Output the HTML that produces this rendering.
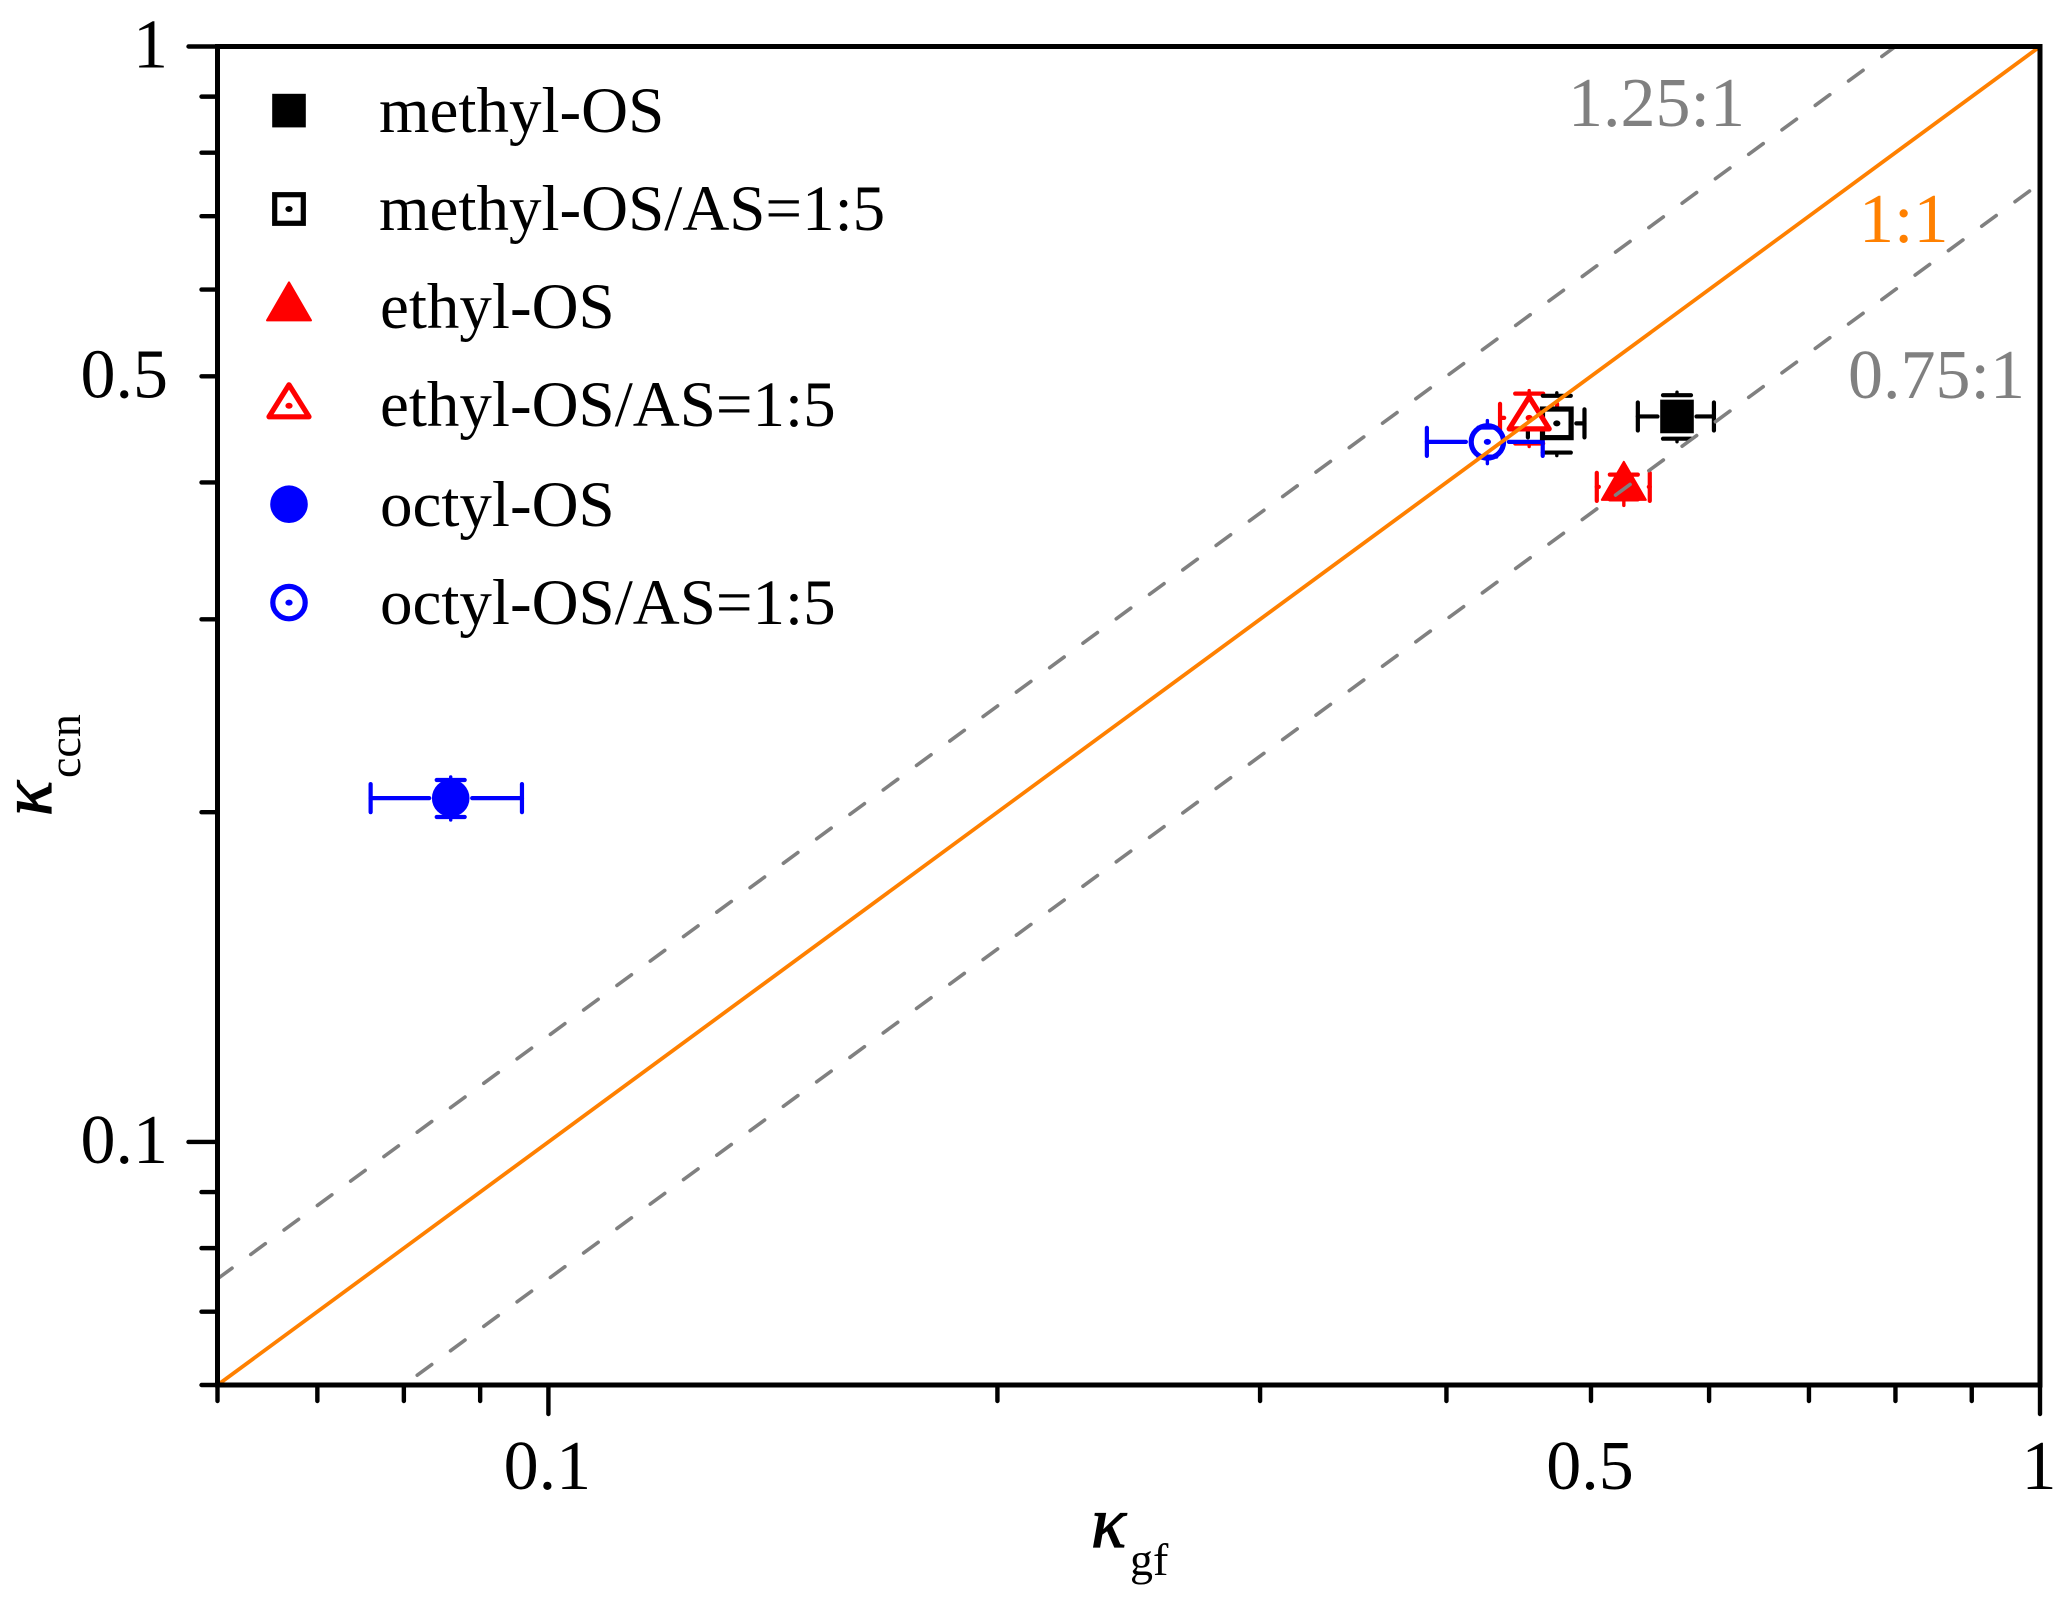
<!DOCTYPE html>
<html lang="en">
<head>
<meta charset="utf-8">
<title>kappa ccn vs kappa gf</title>
<style>
html,body{margin:0;padding:0;background:#fff;}
svg{display:block;}
text{font-family:"Liberation Serif",serif;font-size:70px;fill:#000;}
.legend-text{font-size:65px;}
.sub{font-size:46px;}
.kappa{font-style:italic;font-size:73px;stroke:#000;stroke-width:1.2px;}
</style>
</head>
<body>
<svg id="chart" width="2067" height="1602" viewBox="0 0 2067 1602" xmlns="http://www.w3.org/2000/svg">
  <rect x="0" y="0" width="2067" height="1602" fill="#fff"/>
  <g id="errors"></g>
  <g id="markers"></g>
  <g id="refs"></g>
  <g id="axes"></g>
  <g id="legendMarkers"></g>
  <g>
    <text class="legend-text" x="379" y="132">methyl-OS</text>
    <text class="legend-text" x="379" y="230">methyl-OS/AS=1:5</text>
    <text class="legend-text" x="380" y="328">ethyl-OS</text>
    <text class="legend-text" x="380" y="426">ethyl-OS/AS=1:5</text>
    <text class="legend-text" x="380" y="526">octyl-OS</text>
    <text class="legend-text" x="380" y="624">octyl-OS/AS=1:5</text>
  </g>
  <text x="1568" y="126" style="fill:#808080">1.25:1</text>
  <text x="1859" y="242" style="fill:#FF8000">1:1</text>
  <text x="1848" y="398" style="fill:#808080">0.75:1</text>
  <g>
    <text class="kappa" x="1091" y="1547">κ</text>
    <text class="sub" x="1130" y="1575">gf</text>
  </g>
  <g>
    <text class="kappa" transform="translate(51 816) rotate(-90)">κ</text>
    <text class="sub" transform="translate(80 778) rotate(-90)">ccn</text>
  </g>
</svg>
<script>
// ----- chart data -----
const seriesNames = ['ethyl-os-as','methyl-os','ethyl-os','octyl-os','methyl-os-as','octyl-os-as'];
const kappaGf  = [0.4545, 0.571, 0.526, 0.086, 0.4743, 0.4261];
const gfError  = [0.020, 0.0335, 0.0215, 0.010, 0.0207, 0.038];
const kappaCcn = [0.4581, 0.4595, 0.3963, 0.206, 0.4529, 0.4356];
const ccnError = [0.024, 0.021, 0.0103, 0.008, 0.027, 0.0133];
const ratios = [1.25, 1, 0.75];
const xMinorTicks = [0.06,0.07,0.08,0.09,0.2,0.3,0.4,0.5,0.6,0.7,0.8,0.9];
const xMajorTicks = [0.1,1];
const yMinorTicks = [0.06,0.07,0.08,0.09,0.2,0.3,0.4,0.5,0.6,0.7,0.8,0.9];
const yMajorTicks = [0.1,1];
const xLabels = ['0.1','0.5','1'];
const yLabels = ['0.1','0.5','1'];

// ----- axis functions -----
const L = 217.5, R = 2040, T = 46.5, B = 1385;
const xMin = 0.06, yMin = 0.06;
const NS = 'http://www.w3.org/2000/svg';
function xPos(v){ return L + (Math.log10(v) - Math.log10(xMin)) / (0 - Math.log10(xMin)) * (R - L); }
function yPos(v){ return T + (0 - Math.log10(v)) / (0 - Math.log10(yMin)) * (B - T); }
function make(parent, tag, attrs){
  const e = document.createElementNS(NS, tag);
  for (const k in attrs) e.setAttribute(k, attrs[k]);
  parent.appendChild(e);
  return e;
}
function seg(parent, x1, y1, x2, y2, color, w){
  return make(parent, 'line', {x1, y1, x2, y2, stroke: color, 'stroke-width': w, 'stroke-linecap': 'round'});
}

// ----- marker styling -----
const markerStyle = {
  'methyl-os':    {shape:'square',  color:'#000000', filled:true,  edge:[16.5,16.5], capX:14, stub:3},
  'methyl-os-as': {shape:'square',  color:'#000000', filled:false, edge:[16.5,16.5], capX:14, stub:3},
  'ethyl-os':     {shape:'triangle',color:'#FF0000', filled:true,  edge:[22,13],     capX:14, stub:6},
  'ethyl-os-as':  {shape:'triangle',color:'#FF0000', filled:false, edge:[22,13],     capX:14, stub:3},
  'octyl-os':     {shape:'circle',  color:'#0000FF', filled:true,  edge:[18.5,18.5], capX:14, stub:3},
  'octyl-os-as':  {shape:'circle',  color:'#0000FF', filled:false, edge:[18.5,18.5], capX:9,  stub:7}
};
function drawMarker(parent, style, cx, cy){
  const c = style.color;
  const holl = !style.filled;
  let m;
  if (style.shape === 'square') {
    if (holl) m = make(parent,'rect',{x:cx-14.3,y:cy-14.3,width:28.6,height:28.6,fill:'#fff',stroke:c,'stroke-width':5.2});
    else m = make(parent,'rect',{x:cx-16.8,y:cy-16.8,width:33.6,height:33.6,fill:c});
  } else if (style.shape === 'triangle') {
    if (holl) m = make(parent,'polygon',{points:[cx,cy-21,cx+20,cy+11,cx-20,cy+11].join(' '),fill:'#fff',stroke:c,'stroke-width':5.2,'stroke-linejoin':'round'});
    else m = make(parent,'polygon',{points:[cx,cy-25,cx+22,cy+13,cx-22,cy+13].join(' '),fill:c,stroke:c,'stroke-width':2,'stroke-linejoin':'round'});
  } else {
    if (holl) m = make(parent,'circle',{cx,cy,r:16.2,fill:'none',stroke:c,'stroke-width':5.2});
    else m = make(parent,'circle',{cx,cy,r:18.8,fill:c});
  }
  if (holl) make(parent,'ellipse',{cx,cy,rx:3.6,ry:3,fill:c});
  return m;
}

// ----- error bars -----
const errGroup = document.getElementById('errors');
const mGroup = document.getElementById('markers');
seriesNames.forEach(function(name, i){
  const st = markerStyle[name];
  const g = make(errGroup,'g',{});
  
  
  const cx = xPos(kappaGf[i]), cy = yPos(kappaCcn[i]);
  const xl = xPos(kappaGf[i]-gfError[i]), xh = xPos(kappaGf[i]+gfError[i]);
  const yt = yPos(kappaCcn[i]+ccnError[i]), yb = yPos(kappaCcn[i]-ccnError[i]);
  const c = st.color, w = 4.2, gap = 3;
  seg(g, xl, cy, cx-st.edge[0]-gap, cy, c, w);
  seg(g, cx+st.edge[0]+gap, cy, xh, cy, c, w);
  seg(g, xl, cy-14, xl, cy+14, c, w);
  seg(g, xh, cy-14, xh, cy+14, c, w);
  seg(g, cx-st.capX, yt, cx+st.capX, yt, c, w);
  seg(g, cx-st.capX, yb, cx+st.capX, yb, c, w);
  seg(g, cx, yt, cx, yt-st.stub, c, 3.4);
  seg(g, cx, yb, cx, yb+st.stub, c, 3.4);
});

// ----- markers -----
const markerOrder = [1,2,3,5,4,0];
markerOrder.forEach(function(i){
  const name = seriesNames[i];
  const g = make(mGroup,'g',{});
  
  
  drawMarker(g, markerStyle[name], xPos(kappaGf[i]), yPos(kappaCcn[i]));
});

// ----- reference lines -----
const refGroup = document.getElementById('refs');
const clip = make(refGroup,'clipPath',{id:'plot-area-clip'});
make(clip,'rect',{x:L,y:T,width:R-L,height:B-T});
ratios.forEach(function(r){
  const solid = r === 1;
  const ln = make(refGroup,'line',{
    x1:xPos(xMin), y1:yPos(xMin*r), x2:xPos(1), y2:yPos(r),
    stroke: solid ? '#FF8000' : '#808080',
    'stroke-width': solid ? 3.8 : 3.6,
    'clip-path':'url(#plot-area-clip)'
  });
  
  
  if (!solid) {
    ln.setAttribute('stroke-dasharray', '18 23.3');
    ln.setAttribute('stroke-linecap', 'round');
  }
});

// ----- axes -----
const axes = document.getElementById('axes');
const frame = make(axes,'rect',{x:L,y:T,width:R-L,height:B-T,fill:'none',stroke:'#000','stroke-width':5});


function tickX(v, len){
  const t = seg(axes, xPos(v), B, xPos(v), B+len, '#000', 4.4);
  
  
}
function tickY(v, len){
  const t = seg(axes, L, yPos(v), L-len, yPos(v), '#000', 4.4);
  
  
}
xMinorTicks.forEach(function(v){ tickX(v, 16); });
xMajorTicks.forEach(function(v){ tickX(v, 29); });
yMinorTicks.forEach(function(v){ tickY(v, 16); });
yMajorTicks.forEach(function(v){ tickY(v, 29); });
xLabels.forEach(function(s){
  const t = make(axes,'text',{x:xPos(parseFloat(s))-1, y:1489, 'text-anchor':'middle'});
  t.textContent = s;
  
  
});
yLabels.forEach(function(s){
  const t = make(axes,'text',{x:168, y:yPos(parseFloat(s))+21, 'text-anchor':'end'});
  t.textContent = s;
  
  
});

// ----- legend markers -----
const legendOrder = ['methyl-os','methyl-os-as','ethyl-os','ethyl-os-as','octyl-os','octyl-os-as'];
const legendGroup = document.getElementById('legendMarkers');
legendOrder.forEach(function(name, i){
  const g = make(legendGroup,'g',{});
  
  
  drawMarker(g, markerStyle[name], 289, 110.6 + i*98.4);
});
</script>
</body>
</html>
